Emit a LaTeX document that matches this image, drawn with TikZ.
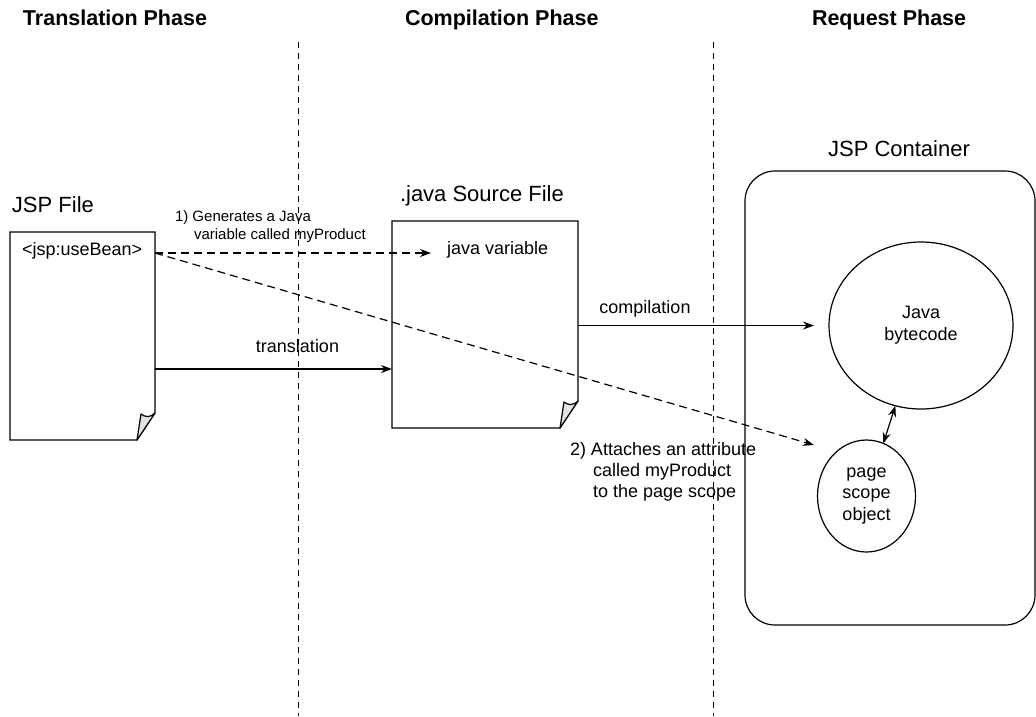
\documentclass[tikz,border=0pt]{standalone}
\usepackage{fontspec}
\setmainfont{Liberation Sans}
\usetikzlibrary{arrows.meta,shapes.geometric}
\newcommand\filefold[1]{%
  \draw[box] (#1.north west) -- (#1.north east) -- ([yshift=27pt]#1.south east)
    -- ([xshift=-18pt]#1.south east) -- (#1.south west) -- cycle;
  \draw[box, fill=gray!22, line join=round] ([xshift=-18pt]#1.south east)
    -- ([xshift=-14pt,yshift=26pt]#1.south east)
    .. controls ([xshift=-10pt,yshift=22.5pt]#1.south east) and ([xshift=-4pt,yshift=22.5pt]#1.south east)
    .. ([yshift=27pt]#1.south east) -- cycle;}
\begin{document}
\begin{tikzpicture}[x=1pt,y=-1pt,
  every node/.style={inner sep=0pt, outer sep=0pt},
  big/.style={font=\fontsize{22}{26}\selectfont},
  mid/.style={font=\fontsize{18}{22}\selectfont},
  small/.style={font=\fontsize{15}{18}\selectfont},
  head/.style={font=\fontsize{21.5}{26}\selectfont\bfseries},
  box/.style={line width=1.2pt},
  sep/.style={line width=1pt, dash pattern=on 6pt off 5pt},
  arr/.style={line width=1.2pt, -{Stealth[length=11pt,width=8pt]}},
  darr/.style={arr, dash pattern=on 8pt off 5pt},
  dbl/.style={line width=1.2pt, {Stealth[length=11pt,width=8pt]}-{Stealth[length=11pt,width=8pt]}},
  filebox/.style={rectangle, minimum width=#1},
  oval/.style={ellipse, draw, line width=1.2pt, align=center, mid}
]
\useasboundingbox (0,0) rectangle (1036,716);

% phase separators
\coordinate (s1t) at (298,42);
\coordinate (s1b) at (298,716);
\coordinate (s2t) at (713,42);
\coordinate (s2b) at (713,716);
\draw[sep] (s1t) -- (s1b);
\draw[sep] (s2t) -- (s2b);

% headers
\node[head, anchor=base west] (h1) at (23,25) {Translation Phase};
\node[head, anchor=base west] (h2) at (405,25) {Compilation Phase};
\node[head, anchor=base west] (h3) at (812,25) {Request Phase};

% JSP file
\node[big, anchor=base west] (jspl) at (12,212) {JSP File};
\node[filebox=145pt, minimum height=208pt] (jsp) at (82.5,336) {};
\filefold{jsp}
\node[mid, anchor=base west] (ub) at (22,255) {<jsp:useBean>};

% java source file
\node[big, anchor=base west] (srcl) at (400,201) {.java Source File};
\node[filebox=186pt, minimum height=207pt] (src) at (485,324.5) {};
\filefold{src}
\node[mid, anchor=base west] (jv) at (447,254) {java variable};

% container
\node[big, anchor=base] (contl) at (899,156) {JSP Container};
\node[draw, line width=1.2pt, rounded corners=30pt, minimum width=290pt, minimum height=454pt] (cont) at (890,398) {};
\node[oval, minimum width=184pt, minimum height=167pt] (bc) at (921,325.5) {Java\\bytecode};
\node[oval, minimum width=98pt, minimum height=112pt, font=\fontsize{18}{21.5}\selectfont] (ps) at (866.5,496) {page\\scope\\object};

% labels
\node[small, anchor=base west] (g1) at (175,221) {1) Generates a Java};
\node[small, anchor=base west] (g2) at (194,239) {variable called myProduct};
\node[mid, anchor=base] (tr) at (297.5,352) {translation};
\node[mid, anchor=base] (co) at (645,313) {compilation};
\node[mid, anchor=base west] (at1) at (570,455) {2) Attaches an attribute};
\node[mid, anchor=base west] (at2) at (593,476) {called myProduct};
\node[mid, anchor=base west] (at3) at (593,497) {to the page scope};

% connectors
\coordinate (a1e) at (431,253);
\coordinate (a2e) at (814,445);
\draw[darr] (jsp.east |- a1e) -- (a1e);
\draw[darr] (jsp.east |- a1e) -- (a2e);
\draw[arr] (jsp.east |- 0,369) -- (src.west |- 0,369);
\draw[arr, shorten >=15pt] (src.east |- bc.west) -- (bc.west);
\draw[dbl] (bc) -- (ps);
\end{tikzpicture}
\end{document}
